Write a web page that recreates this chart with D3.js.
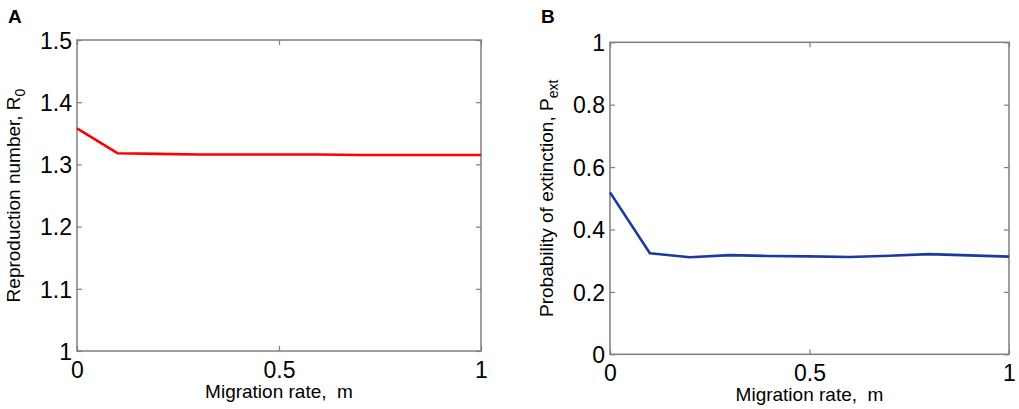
<!DOCTYPE html>
<html>
<head>
<meta charset="utf-8">
<script src="https://cdn.jsdelivr.net/npm/d3@7"></script>
<style>
  html, body { margin: 0; padding: 0; background: #fff; }
  svg { display: block; font-family: "Liberation Sans", Arial, Helvetica, sans-serif; }
</style>
</head>
<body>
<svg id="chart" width="1019" height="409"></svg>
<script>
// Data
const migration = [0, 0.1, 0.2, 0.3, 0.4, 0.5, 0.6, 0.7, 0.8, 0.9, 1.0];
const r0Values = [1.358, 1.318, 1.317, 1.316, 1.316, 1.316, 1.316, 1.315, 1.315, 1.315, 1.315];
const pextValues = [0.519, 0.324, 0.311, 0.318, 0.315, 0.314, 0.312, 0.316, 0.321, 0.317, 0.313];
const xTicks = [0, 0.5, 1];
const r0Ticks = [1, 1.1, 1.2, 1.3, 1.4, 1.5];
const pextTicks = [0, 0.2, 0.4, 0.6, 0.8, 1];

const svg = d3.select("#chart");
const axisColor = "#7f7f7f";

function panel(opts) {
  const g = svg.append("g");
  const x = d3.scaleLinear().domain([0, 1]).range([opts.left, opts.right]);
  const y = d3.scaleLinear().domain(opts.yDomain).range([opts.bottom, opts.top]);

  // box
  g.append("rect")
    .attr("x", opts.left).attr("y", opts.top)
    .attr("width", opts.right - opts.left).attr("height", opts.bottom - opts.top)
    .attr("fill", "none").attr("stroke", axisColor).attr("stroke-width", 1.5);

  const tl = 5;
  // bottom axis (inner ticks)
  const xb = g.append("g").attr("transform", `translate(0,${opts.bottom})`)
    .call(d3.axisBottom(x).tickValues(xTicks).tickSize(-tl).tickPadding(0).tickFormat(d3.format("")));
  xb.select(".domain").remove();
  xb.selectAll(".tick line").attr("stroke", axisColor).attr("stroke-width", 1.2);
  xb.selectAll(".tick text").attr("fill", "#000").attr("font-size", 23)
    .attr("y", 27).attr("dy", 0);
  // top ticks
  const xt = g.append("g").attr("transform", `translate(0,${opts.top})`)
    .call(d3.axisTop(x).tickValues(xTicks).tickSize(-tl).tickFormat(""));
  xt.select(".domain").remove();
  xt.selectAll(".tick line").attr("stroke", axisColor).attr("stroke-width", 1.2);

  // left axis
  const yl = g.append("g").attr("transform", `translate(${opts.left},0)`)
    .call(d3.axisLeft(y).tickValues(opts.yTicks).tickSize(-tl).tickPadding(0).tickFormat(d3.format("")));
  yl.select(".domain").remove();
  yl.selectAll(".tick line").attr("stroke", axisColor).attr("stroke-width", 1.2);
  yl.selectAll(".tick text").attr("fill", "#000").attr("font-size", 23)
    .attr("x", -5).attr("dy", "0.36em");
  // right ticks
  const yr = g.append("g").attr("transform", `translate(${opts.right},0)`)
    .call(d3.axisRight(y).tickValues(opts.yTicks).tickSize(-tl).tickFormat(""));
  yr.select(".domain").remove();
  yr.selectAll(".tick line").attr("stroke", axisColor).attr("stroke-width", 1.2);

  // line
  const line = d3.line().x((d, i) => x(migration[i])).y(d => y(d));
  g.append("path").datum(opts.values)
    .attr("d", line).attr("fill", "none")
    .attr("stroke", opts.color).attr("stroke-width", 2.6)
    .attr("stroke-linejoin", "round");

  // x label
  g.append("text")
    .attr("x", (opts.left + opts.right) / 2).attr("y", opts.bottom + 47)
    .attr("text-anchor", "middle").attr("font-size", 19).attr("fill", "#000")
    .attr("xml:space", "preserve")
    .text("Migration rate,  m");

  // y label
  const yt = g.append("text")
    .attr("transform", `translate(${opts.left - 57},${(opts.top + opts.bottom) / 2}) rotate(-90)`)
    .attr("text-anchor", "middle").attr("font-size", 19).attr("fill", "#000");
  yt.append("tspan").text(opts.yLabel);
  yt.append("tspan").attr("font-size", 14).attr("dy", 5).text(opts.yLabelSub);

  // panel letter
  g.append("text")
    .attr("x", opts.left - 69).attr("y", 23)
    .attr("font-size", 19).attr("font-weight", "bold").attr("fill", "#000")
    .text(opts.letter);
}

panel({
  left: 77, right: 481, top: 40, bottom: 351,
  yDomain: [1, 1.5], yTicks: r0Ticks, values: r0Values,
  color: "#ff0000", yLabel: "Reproduction number, R", yLabelSub: "0", letter: "A"
});
panel({
  left: 610, right: 1009, top: 42.3, bottom: 354.3,
  yDomain: [0, 1], yTicks: pextTicks, values: pextValues,
  color: "#1a3b9c", yLabel: "Probability of extinction, P", yLabelSub: "ext", letter: "B"
});
</script>
</body>
</html>
